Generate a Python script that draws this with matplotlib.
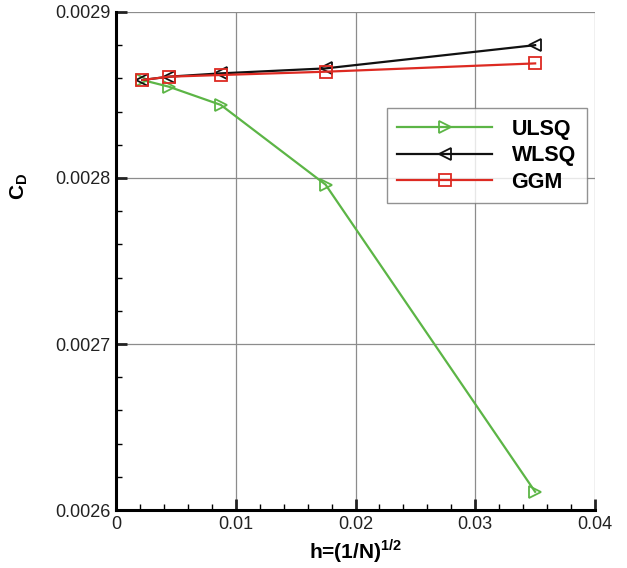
import matplotlib
matplotlib.use("Agg")
import matplotlib.pyplot as plt
from matplotlib.ticker import MultipleLocator, FormatStrFormatter

plt.rcParams['font.family'] = ['Liberation Sans', 'DejaVu Sans']
plt.rcParams['mathtext.fontset'] = 'custom'
plt.rcParams['mathtext.rm'] = 'Liberation Sans'
plt.rcParams['mathtext.bf'] = 'Liberation Sans:bold'

# grid spacing h and drag coefficient for each gradient scheme
h = [0.0022, 0.0044, 0.00875, 0.0175, 0.035]
cd_ulsq = [0.002859, 0.002855, 0.002844, 0.002796, 0.002611]
cd_wlsq = [0.002859, 0.002861, 0.002863, 0.002866, 0.002880]
cd_ggm = [0.002859, 0.002861, 0.002862, 0.002864, 0.002869]

series = [
    ("ULSQ", cd_ulsq, "#5cb546", ">"),
    ("WLSQ", cd_wlsq, "#111111", "<"),
    ("GGM", cd_ggm, "#dd2a22", "s"),
]

fig = plt.figure(figsize=(6.27, 5.68), dpi=100)
ax = fig.add_axes([0.185, 0.102, 0.764, 0.877])

for name, vals, col, mk in series:
    ax.plot(h, vals, color=col, lw=1.6, marker=mk, ms=9,
            mfc="none", mec=col, mew=1.3, label=name)

ax.set_xlim(0, 0.04)
ax.set_ylim(0.0026, 0.0029)
ax.xaxis.set_major_locator(MultipleLocator(0.01))
ax.xaxis.set_minor_locator(MultipleLocator(0.002))
ax.yaxis.set_major_locator(MultipleLocator(0.0001))
ax.yaxis.set_minor_locator(MultipleLocator(0.00002))
ax.xaxis.set_major_formatter(FormatStrFormatter('%g'))
ax.yaxis.set_major_formatter(FormatStrFormatter('%.4f'))

ax.grid(True, which="major", color="#8c8c8c", lw=0.9)
ax.set_axisbelow(True)
for s in ["top", "right"]:
    ax.spines[s].set_visible(False)
for s in ["left", "bottom"]:
    ax.spines[s].set_linewidth(2.2)
ax.tick_params(which="major", direction="in", length=8, width=2,
               labelsize=13, colors="#222222", pad=4)
ax.tick_params(which="minor", direction="in", length=4, width=1)

ax.set_xlabel(r"h=(1/N)$^{\mathbf{1/2}}$", fontsize=15, fontweight="bold",
              labelpad=3)
ax.set_ylabel(r"$\mathbf{C_D}$", fontsize=15, rotation=90)
ax.yaxis.set_label_coords(-0.18, 0.65)

leg = ax.legend(loc="upper left", bbox_to_anchor=(0.565, 0.807),
                borderaxespad=0, frameon=True, fancybox=False,
                edgecolor="#777777", prop={"weight": "bold", "size": 15.5},
                handlelength=4.4, borderpad=0.5, labelspacing=0.25,
                handletextpad=0.9)
leg.get_frame().set_linewidth(1.0)

fig.savefig("out.png", dpi=100)
